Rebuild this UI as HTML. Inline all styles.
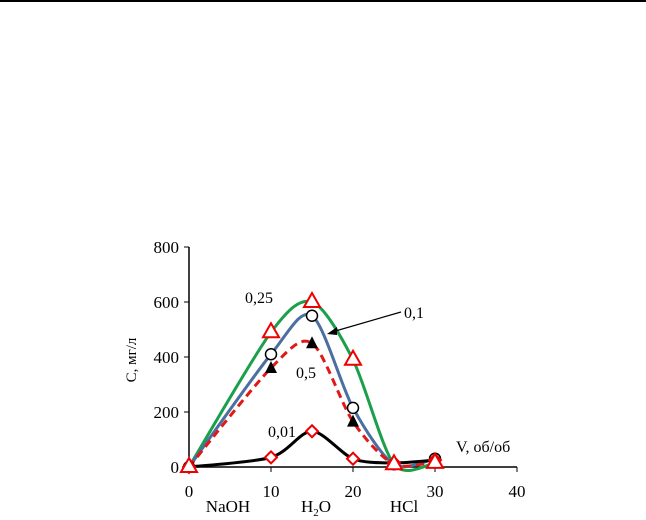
<!DOCTYPE html>
<html><head><meta charset="utf-8"><style>
body{margin:0;background:#fff;}
svg{display:block;font-family:"Liberation Serif",serif;}
</style></head><body>
<svg width="646" height="520">
<line x1="0" y1="1" x2="646" y2="1" stroke="#000" stroke-width="2"/>
<g id="axes"></g>
<g id="series"></g>
<text x="136" y="360" font-size="15" transform="rotate(-90 136 360)" text-anchor="middle">С, мг/л</text>
<text x="456" y="452" font-size="16">V, об/об</text>
<text x="228" y="512" font-size="17" text-anchor="middle">NaOH</text>
<text x="316" y="512" font-size="17" text-anchor="middle">H<tspan font-size="11" dy="4">2</tspan><tspan dy="-4">O</tspan></text>
<text x="404" y="512" font-size="17" text-anchor="middle">HCl</text>
<text x="245" y="303" font-size="16">0,25</text>
<text x="404" y="318" font-size="16">0,1</text>
<text x="296" y="378" font-size="16">0,5</text>
<text x="268" y="437" font-size="16">0,01</text>
<line x1="401" y1="312" x2="332" y2="332" stroke="#000" stroke-width="1.2"/>
<polygon points="327,334 337,327 337,335" fill="#000"/>
</svg>
<script>
const xVals=[0,10,15,20,25,30];
const s025=[0,490,600,390,10,15];
const s01=[0,410,550,215,10,30];
const s05=[0,360,450,165,10,20];
const s001=[0,35,130,30,15,25];
const xTicks=[0,10,20,30,40];
const yTicks=[0,200,400,600,800];
const NS="http://www.w3.org/2000/svg";
const X=v=>189+v*8.2, Y=v=>467-v*0.275;
function mk(t,a,p){const e=document.createElementNS(NS,t);for(const k in a)e.setAttribute(k,a[k]);p.appendChild(e);return e;}
const ax=document.getElementById('axes'), se=document.getElementById('series');
let e=mk('line',{x1:X(0),y1:Y(800),x2:X(0),y2:Y(0),stroke:'#000','stroke-width':1.5},ax);

e=mk('line',{x1:X(0),y1:Y(0),x2:X(40),y2:Y(0),stroke:'#000','stroke-width':1.5},ax);

yTicks.forEach(v=>{mk('line',{x1:X(0)-5,x2:X(0),y1:Y(v),y2:Y(v),stroke:'#000'},ax);
 const t=mk('text',{x:X(0)-10,y:Y(v)+6,'font-size':17,'text-anchor':'end'},ax);t.textContent=v;
 });
xTicks.forEach(v=>{mk('line',{x1:X(v),x2:X(v),y1:Y(0),y2:Y(0)+5,stroke:'#000'},ax);
 const t=mk('text',{x:X(v),y:Y(0)+30,'font-size':17,'text-anchor':'middle'},ax);t.textContent=v;
 });
function curve(ys){const p=xVals.map((x,i)=>[X(x),Y(ys[i])]);let d='M'+p[0];
 const k=1/7;
 for(let i=0;i<p.length-1;i++){const p0=p[i-1]||p[i],p1=p[i],p2=p[i+1],p3=p[i+2]||p2;
 d+=' C'+(p1[0]+(p2[0]-p0[0])*k)+','+(p1[1]+(p2[1]-p0[1])*k)+' '+(p2[0]-(p3[0]-p1[0])*k)+','+(p2[1]-(p3[1]-p1[1])*k)+' '+p2;}return d;}
function line(ys,col,dash,name){const l=mk('path',{d:curve(ys),fill:'none',stroke:col,'stroke-width':3,'stroke-dasharray':dash||'none'},se);
 }
function markers(ys,type,name){xVals.forEach((x,i)=>{const cx=X(x),cy=Y(ys[i]);let m;
 if(type=='tri')m=mk('polygon',{points:`${cx},${cy-9} ${cx-8},${cy+5} ${cx+8},${cy+5}`,fill:'#fff',stroke:'#e00','stroke-width':2},se);
 else if(type=='btri')m=mk('polygon',{points:`${cx},${cy-7} ${cx-6},${cy+5} ${cx+6},${cy+5}`,fill:'#000'},se);
 else if(type=='circ')m=mk('circle',{cx,cy,r:5.5,fill:'#fff',stroke:'#000','stroke-width':1.5},se);
 else m=mk('polygon',{points:`${cx},${cy-6} ${cx+6},${cy} ${cx},${cy+6} ${cx-6},${cy}`,fill:'#fff',stroke:'#e00','stroke-width':2},se);
 });}
line(s025,'#1aa04a',null,'line-0-25');
line(s01,'#4a6fa0',null,'line-0-1');
line(s05,'#e01818','8,5','line-0-5');
line(s001,'#000',null,'line-0-01');
markers(s01,'circ','marker-0-1');
markers(s05,'btri','marker-0-5');
markers(s001,'dia','marker-0-01');
markers(s025,'tri','marker-0-25');
</script>
</body></html>
